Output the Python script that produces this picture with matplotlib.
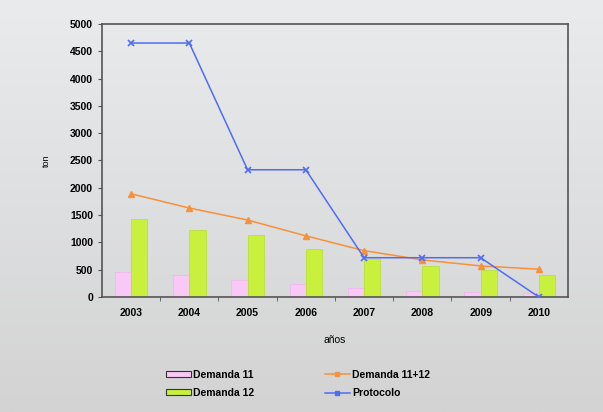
import numpy as np
import matplotlib.pyplot as plt
from matplotlib.colors import LinearSegmentedColormap
from matplotlib.patches import Patch
from matplotlib.lines import Line2D

years = ["2003", "2004", "2005", "2006", "2007", "2008", "2009", "2010"]
demanda_11 = [460, 400, 310, 240, 165, 110, 90, 70]
demanda_12 = [1430, 1230, 1135, 880, 700, 570, 495, 400]
demanda_11_12 = [1890, 1630, 1410, 1120, 850, 680, 570, 510]
protocolo = [4650, 4650, 2330, 2330, 720, 720, 720, 0]
y_ticks = [0, 500, 1000, 1500, 2000, 2500, 3000, 3500, 4000, 4500, 5000]

plt.rcParams["font.family"] = ["Liberation Sans", "DejaVu Sans"]
plt.rcParams["font.weight"] = "bold"

fig = plt.figure(figsize=(6.03, 4.12), dpi=100)

# gray gradient background
bg = fig.add_axes([0, 0, 1, 1], zorder=-10)
grad = np.linspace(0, 1, 256).reshape(-1, 1)
cmap = LinearSegmentedColormap.from_list("bg", ["#e9ebed", "#d3d3d3"])
bg.imshow(grad, aspect="auto", cmap=cmap, extent=[0, 1, 0, 1], origin="upper")
bg.axis("off")

ax = fig.add_axes([0.169, 0.279, 0.773, 0.663])
ax.patch.set_alpha(0)

x = np.arange(len(years))
w = 0.28
ax.bar(x - w / 2, demanda_11, w, color="#f8c8f6", edgecolor="#f2b4f0", lw=0.5, zorder=2)
ax.bar(x + w / 2, demanda_12, w, color="#c8f03c", edgecolor="#b7e02a", lw=0.5, zorder=2)
ax.plot(x, demanda_11_12, color="#f7913a", lw=1.1, marker="^", ms=4, zorder=3)
ax.plot(x, protocolo, color="#4f6cf5", lw=1.1, marker="x", ms=5, mew=1.2, zorder=4)

ax.set_xlim(-0.5, len(years) - 0.5)
ax.set_ylim(0, 5000)
ax.set_yticks(y_ticks)
ax.set_xticks(x)
ax.set_xticklabels(years)
ax.set_xticks(np.arange(0.5, len(years) - 1, 1), minor=True)
ax.tick_params(axis="x", which="major", length=0, labelsize=7.5, pad=8)
ax.tick_params(axis="x", which="minor", length=3, color="#555555")
ax.tick_params(axis="y", length=3, labelsize=7.5, color="#555555")
for s in ax.spines.values():
    s.set_color("#555555")
    s.set_linewidth(1.2)

ax.set_ylabel("ton", fontsize=6.5, labelpad=14)
ax.set_xlabel("años", fontsize=7.5, labelpad=12)

handles = [
    Patch(facecolor="#f8c8f6", edgecolor="#333333", lw=0.8),
    Patch(facecolor="#c8f03c", edgecolor="#333333", lw=0.8),
    Line2D([], [], color="#f7913a", lw=1.1, marker="s", ms=2.5),
    Line2D([], [], color="#4f6cf5", lw=1.1, marker="s", ms=2.5),
]
labels = ["Demanda 11", "Demanda 12", "Demanda 11+12", "Protocolo"]
fig.legend(handles, labels, ncol=2, loc="center", bbox_to_anchor=(0.494, 0.068),
           frameon=False, fontsize=7.5, columnspacing=6.8, handlelength=2.4,
           handleheight=0.5, handletextpad=0.2, labelspacing=0.8)

fig.savefig("out.png", dpi=100)
